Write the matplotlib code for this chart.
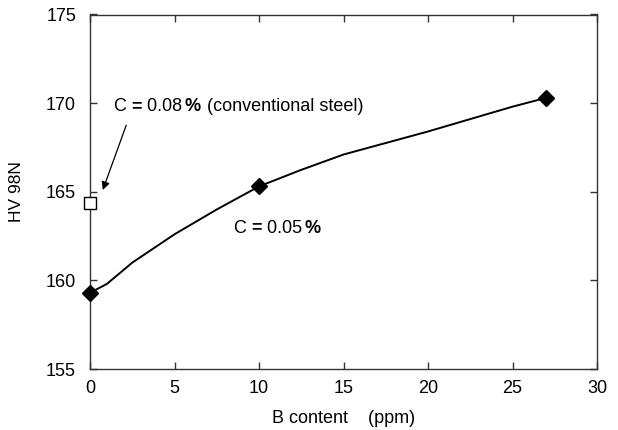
import matplotlib
matplotlib.use("Agg")
import matplotlib.pyplot as plt
from matplotlib.transforms import offset_copy

plt.rcParams['font.family'] = ['Liberation Sans', 'DejaVu Sans']

# Data
b_points = [0, 10, 27]
hv_points = [159.3, 165.3, 170.3]
curve_b = [0, 1, 2.5, 5, 7.5, 10, 12.4, 15, 20, 25, 27]
curve_hv = [159.3, 159.8, 161.0, 162.6, 164.0, 165.3, 166.2, 167.1, 168.4, 169.8, 170.3]
conv_b = [0]
conv_hv = [164.35]
xticks = [0, 5, 10, 15, 20, 25, 30]
yticks = [155, 160, 165, 170, 175]

fig = plt.figure(figsize=(6.18, 4.30), dpi=100)
ax = fig.add_axes([90/618, 1 - 369/430, (597-90)/618, (369-14.5)/430])

ax.plot(curve_b, curve_hv, color='black', lw=1.4, zorder=2, clip_on=False)
ax.plot(b_points, hv_points, linestyle='none', marker='D', ms=8, color='black', zorder=3, clip_on=False)
ax.plot(conv_b, conv_hv, linestyle='none', marker='s', ms=9, mfc='white', mec='black', mew=1, zorder=3, clip_on=False)

ax.set_xlim(0, 30)
ax.set_ylim(155, 175)
ax.set_xticks(xticks)
ax.set_yticks(yticks)
ax.tick_params(direction='in', length=5, width=1, top=True, right=True, labelsize=13, colors='#333333', labelcolor='black')
ax.tick_params(axis='x', pad=8)
ax.tick_params(axis='y', pad=10)
for s in ax.spines.values():
    s.set_linewidth(1)
    s.set_color('#333333')

ax.set_xlabel('B content    (ppm)', fontsize=13, labelpad=9)
ax.set_ylabel('HV 98N', fontsize=12.5, labelpad=16)

def rich_text(fig, ax, x, y, pieces, fontsize=13):
    fig.canvas.draw()
    r = fig.canvas.get_renderer()
    offset = 0.0
    for s, w, gap in pieces:
        offset += gap
        tr = offset_copy(ax.transData, fig=fig, x=offset, y=0, units='dots')
        t = ax.text(x, y, s, transform=tr, fontsize=fontsize, fontweight=w, va='center', ha='left')
        bb = t.get_window_extent(renderer=r)
        offset += bb.width

rich_text(fig, ax, 1.4, 169.8, [('C ', 'normal', 0), ('=', 'bold', 0), (' 0.08', 'normal', 0),
                                ('%', 'bold', 2.5), (' (conventional steel)', 'normal', 1.5)])
rich_text(fig, ax, 8.5, 162.95, [('C ', 'normal', 0), ('=', 'bold', 0), (' 0.05', 'normal', 0), ('%', 'bold', 2.5)])

ax.annotate('', xy=(0.7, 164.95), xytext=(2.2, 168.9),
            arrowprops=dict(arrowstyle='-|>', color='black', lw=0.9, mutation_scale=12))

fig.savefig('out.png', dpi=100)
